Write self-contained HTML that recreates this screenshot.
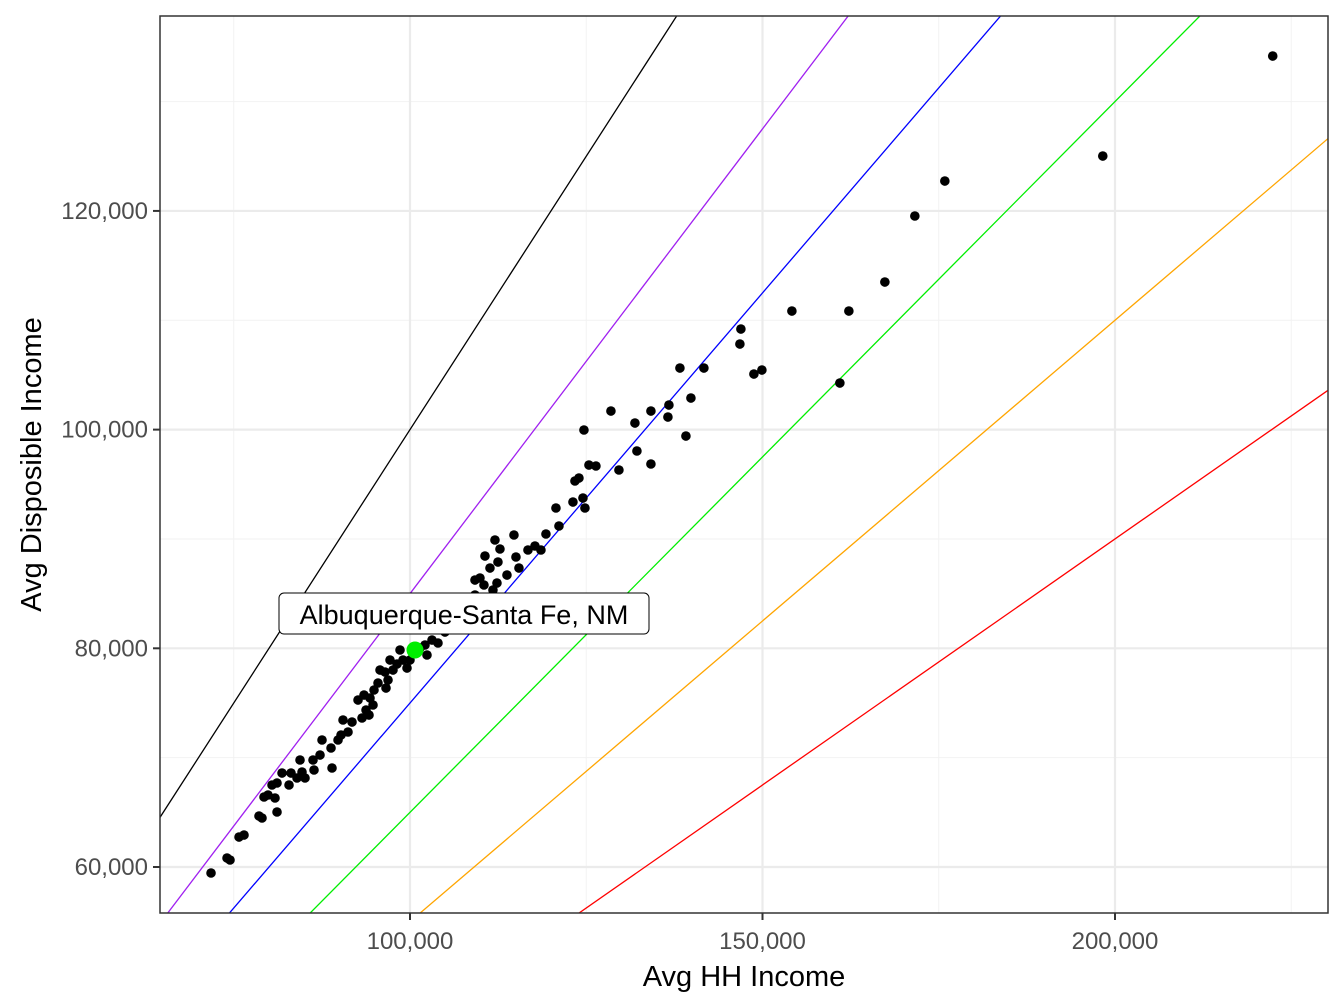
<!DOCTYPE html>
<html><head><meta charset="utf-8"><style>
html,body{margin:0;padding:0;background:#fff;overflow:hidden;width:1344px;height:1008px;}
svg{display:block;font-family:"Liberation Sans",Arial,sans-serif;}
</style></head><body>
<svg id="chart" width="1344" height="1008" viewBox="0 0 1344 1008"></svg>
<script>
const xTicks=[100000,150000,200000];
const yTicks=[60000,80000,100000,120000];
const xMinor=[75000,125000,175000,225000];
const yMinor=[70000,90000,110000,130000];
const xTickLabels=["100,000","150,000","200,000"];
const yTickLabels=["60,000","80,000","100,000","120,000"];
const lineSlopes=[1,0.85,0.75,0.65,0.55,0.45];
const lineColors=["#000000","#a020f0","#0000ff","#00ee00","#ffa500","#ff0000"];
const hhIncome=[222373,198267,175863,171609,167355,162250,154168,146936,146794,148779,149914,160974,141689,138286,139846,136726,136584,134173,128501,139137,131905,124673,132189,134173,129636,126374,125382,123964,123396,124531,124815,123113,120702,121128,119284,118575,116731,117724,114746,115030,115455,113754,112052,112761,112477,110634,111343,109925,109216,110492,111768,112336,110918,109216,111343,108507,107089,105670,104252,104961,103119,103970,102127,102411,101418,100000,99575,99007,98582,98157,97589,97164,96455,96880,95745,95462,96597,94895,94328,93477,92626,93760,94753,93193,94186,91775,90499,91208,90215,89790,88797,87520,87236,88938,86243,84399,86384,84683,83974,83123,85108,82839,81846,81137,80428,79861,79294,80853,81137,79010,78584,76457,75748,74472,74046,71777];
const dispIncome=[134166,125021,122735,119535,113498,110846,110846,109200,107828,105085,105451,104262,105633,105633,102890,102250,101152,101701,101701,99415,100604,99964,98044,96855,96306,96672,96763,95574,95300,93745,92831,93379,92831,91185,90453,88990,88990,89356,90362,88350,87343,86703,89905,89082,87892,88441,87343,86429,86246,85789,85332,85971,84417,84874,83502,83959,83045,82588,82131,81490,80759,80485,80302,79388,80027,78930,78198,78930,79845,78564,78015,78930,77833,77101,78015,76827,76369,76187,75455,75729,75272,74357,74815,73626,73900,73260,73443,72346,72071,71614,70883,71614,70242,69054,69785,69785,68871,68688,68139,68596,68139,67499,68596,67682,67499,66585,66402,66310,65030,64481,64664,62926,62743,60640,60823,59451];
const highlightX=[100709];
const highlightY=[79845];
const highlightLabel=["Albuquerque-Santa Fe, NM"];

const L=160,R=1328,T=16,B=913;
const xMin=64539,xMax=230213,yMin=55794,yMax=137826;
const sx=v=>L+(v-xMin)/(xMax-xMin)*(R-L);
const sy=v=>B-(v-yMin)/(yMax-yMin)*(B-T);
const NS="http://www.w3.org/2000/svg";
const svg=document.getElementById('chart');
function mk(tag,attrs,parent){const e=document.createElementNS(NS,tag);for(const k in attrs)e.setAttribute(k,attrs[k]);(parent||svg).appendChild(e);return e;}

const clip=mk('clipPath',{id:'pc'});mk('rect',{x:L,y:T,width:R-L,height:B-T},clip);
const grid=mk('g',{});


xMinor.forEach(v=>{mk('line',{x1:sx(v),x2:sx(v),y1:T,y2:B,stroke:'#f2f2f2','stroke-width':1},grid);});
yMinor.forEach(v=>{mk('line',{x1:L,x2:R,y1:sy(v),y2:sy(v),stroke:'#f2f2f2','stroke-width':1},grid);});
xTicks.forEach(v=>{mk('line',{x1:sx(v),x2:sx(v),y1:T,y2:B,stroke:'#ebebeb','stroke-width':2.2},grid);});
yTicks.forEach(v=>{mk('line',{x1:L,x2:R,y1:sy(v),y2:sy(v),stroke:'#ebebeb','stroke-width':2.2},grid);});

const lines=mk('g',{'clip-path':'url(#pc)'});
lineSlopes.forEach((s,i)=>{
  const l=mk('line',{x1:sx(xMin),y1:sy(xMin*s),x2:sx(xMax),y2:sy(xMax*s),stroke:lineColors[i],'stroke-width':1.3},lines);
  
  
});

const pts=mk('g',{'clip-path':'url(#pc)'});


hhIncome.forEach((x,i)=>{
  const c=mk('circle',{cx:sx(x),cy:sy(dispIncome[i]),r:4.8,fill:'#000'},pts);
  
  
});
highlightX.forEach((x,i)=>{
  const c=mk('circle',{cx:sx(x),cy:sy(highlightY[i]),r:8.5,fill:'#00ee00'});
  
  
  const px=sx(x),py=sy(highlightY[i]);
  const g=mk('g',{});
  
  
  mk('rect',{x:px-136,y:py-57,width:370,height:41,rx:5,fill:'#fff',stroke:'#000','stroke-width':1},g);
  const t=mk('text',{x:px+49,y:py-26,'font-size':27,'text-anchor':'middle',fill:'#000'},g);
  t.textContent=highlightLabel[i];
});

const frame=mk('rect',{x:L,y:T,width:R-L,height:B-T,fill:'none',stroke:'#333','stroke-width':1.5});



xTicks.forEach((v,i)=>{
  mk('line',{x1:sx(v),x2:sx(v),y1:B,y2:B+7,stroke:'#333','stroke-width':2});
  const t=mk('text',{x:sx(v),y:B+36,'font-size':24,'text-anchor':'middle',fill:'#4d4d4d'});
  
  
  t.textContent=xTickLabels[i];
});
yTicks.forEach((v,i)=>{
  mk('line',{x1:L-7,x2:L,y1:sy(v),y2:sy(v),stroke:'#333','stroke-width':2});
  const t=mk('text',{x:L-12,y:sy(v)+8,'font-size':24,'text-anchor':'end',fill:'#4d4d4d'});
  
  
  t.textContent=yTickLabels[i];
});
const xt=mk('text',{x:(L+R)/2,y:986,'font-size':29,'text-anchor':'middle',fill:'#000'});


xt.textContent='Avg HH Income';
const yt=mk('text',{x:0,y:0,'font-size':29,'text-anchor':'middle',fill:'#000',transform:'translate(41,'+((T+B)/2)+') rotate(-90)'});


yt.textContent='Avg Disposible Income';
</script>
</body></html>
